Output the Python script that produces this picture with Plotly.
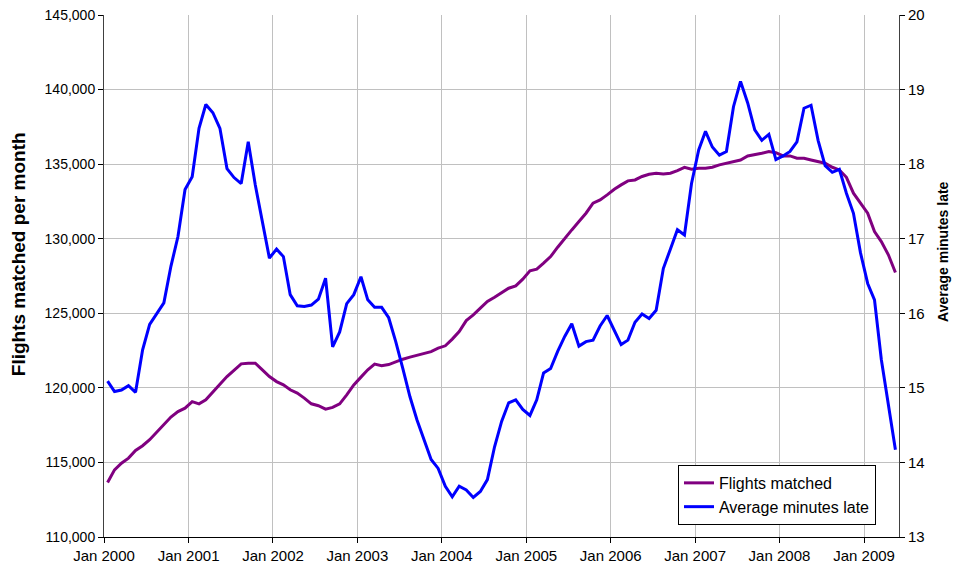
import pandas as pd
import plotly.graph_objects as go

FONT = "Liberation Sans, Arial, sans-serif"
PURPLE = "#800080"
BLUE = "#0000ff"
GRID = "#c0c0c0"

months = pd.date_range("2000-01-01", periods=113, freq="MS")

flights_matched = [
    113650, 114500, 114950, 115290, 115800, 116120, 116520, 117030, 117540, 118040,
    118410, 118640, 119080, 118930, 119200, 119750, 120250, 120760, 121210, 121610,
    121650, 121650, 121210, 120760, 120420, 120200, 119870, 119650, 119310, 118930,
    118800, 118570, 118690, 118930, 119530, 120200, 120720, 121210, 121590, 121480,
    121560, 121760, 121920, 122060, 122190, 122330, 122430, 122660, 122820, 123270,
    123780, 124510, 124890, 125340, 125790, 126080, 126390, 126680, 126840, 127290,
    127850, 127960, 128360, 128800, 129430, 130030, 130590, 131150, 131710, 132380,
    132600, 132940, 133320, 133610, 133880, 133940, 134170, 134320, 134390, 134340,
    134390, 134570, 134790, 134660, 134720, 134720, 134790, 134950, 135060, 135130,
    135280, 135550, 135620, 135730, 135840, 135770, 135550, 135550, 135400, 135400,
    135280, 135170, 135060, 134790, 134610, 134120, 133050, 132380, 131710, 130480,
    129810, 128920, 127730,
]

avg_minutes_late = [
    15.09, 14.95, 14.97, 15.03, 14.94, 15.51, 15.85, 16.00, 16.14, 16.63,
    17.03, 17.66, 17.83, 18.48, 18.80, 18.69, 18.48, 17.94, 17.82, 17.74,
    18.30, 17.72, 17.25, 16.74, 16.86, 16.76, 16.25, 16.10, 16.09, 16.11,
    16.19, 16.47, 15.55, 15.75, 16.13, 16.25, 16.49, 16.18, 16.08, 16.08,
    15.94, 15.62, 15.26, 14.88, 14.57, 14.30, 14.04, 13.92, 13.68, 13.54,
    13.68, 13.63, 13.53, 13.61, 13.77, 14.21, 14.55, 14.80, 14.84, 14.71,
    14.63, 14.84, 15.20, 15.26, 15.49, 15.69, 15.86, 15.56, 15.62, 15.64,
    15.83, 15.97, 15.78, 15.58, 15.64, 15.88, 15.99, 15.93, 16.04, 16.60,
    16.86, 17.12, 17.05, 17.74, 18.19, 18.44, 18.23, 18.12, 18.17, 18.77,
    19.11, 18.82, 18.46, 18.32, 18.40, 18.06, 18.11, 18.17, 18.30, 18.75,
    18.79, 18.32, 17.98, 17.89, 17.93, 17.61, 17.34, 16.81, 16.40, 16.18,
    15.38, 14.75, 14.17,
]

fig = go.Figure()
fig.add_trace(go.Scatter(
    x=months, y=flights_matched, name="Flights matched",
    mode="lines", line={"color": PURPLE, "width": 3},
    xperiod="M1", xperiodalignment="middle",
))
fig.add_trace(go.Scatter(
    x=months, y=avg_minutes_late, name="Average minutes late",
    mode="lines", line={"color": BLUE, "width": 3},
    xperiod="M1", xperiodalignment="middle", yaxis="y2",
))

axis_common = {
    "showline": True, "linecolor": "#404040", "linewidth": 1,
    "ticks": "outside", "ticklen": 5, "tickcolor": "#000000",
    "zeroline": False, "automargin": False, "ticklabeloverflow": "allow",
}

fig.update_layout(
    width=956, height=572,
    margin={"l": 104, "r": 57, "t": 15, "b": 35},
    paper_bgcolor="white", plot_bgcolor="white",
    font={"family": FONT, "color": "#000000"},
    xaxis={
        **axis_common,
        "type": "date",
        "range": ["2000-01-01", "2009-06-01"],
        "tick0": "2000-01-01", "dtick": "M12", "tickformat": "%b %Y",
        "tickfont": {"family": FONT, "size": 15, "color": "#000000"},
        "showgrid": True, "gridcolor": GRID, "gridwidth": 1,
        "linecolor": "#000000",
    },
    yaxis={
        **axis_common,
        "range": [110000, 145000], "dtick": 5000, "tickformat": ",d",
        "tickfont": {"family": FONT, "size": 14, "color": "#000000"},
        "showgrid": True, "gridcolor": GRID, "gridwidth": 1,
    },
    yaxis2={
        **axis_common,
        "overlaying": "y", "side": "right",
        "range": [13, 20], "dtick": 1,
        "tickfont": {"family": FONT, "size": 15, "color": "#000000"},
        "showgrid": False,
    },
    legend={
        "x": 0.722, "y": 0.138, "xanchor": "left", "yanchor": "top",
        "bgcolor": "white", "bordercolor": "#000000", "borderwidth": 1,
        "font": {"family": FONT, "size": 16, "color": "#000000"},
        "tracegroupgap": 0, "itemwidth": 30,
    },
    showlegend=True,
)

# axis titles sit a little above the middle, as in the original
fig.add_annotation(
    text="Flights matched per month", textangle=-90, showarrow=False,
    xref="paper", yref="paper", x=-0.108, y=0.542,
    xanchor="center", yanchor="middle",
    font={"family": FONT, "size": 19, "weight": "bold", "color": "#000000"},
)
fig.add_annotation(
    text="Average minutes late", textangle=-90, showarrow=False,
    xref="paper", yref="paper", x=1.0553, y=0.548,
    xanchor="center", yanchor="middle",
    font={"family": FONT, "size": 14, "weight": "bold", "color": "#000000"},
)

fig.write_html(
    "out.html",
    config={"displayModeBar": False},
    post_script="document.body.style.margin='0';",
)
